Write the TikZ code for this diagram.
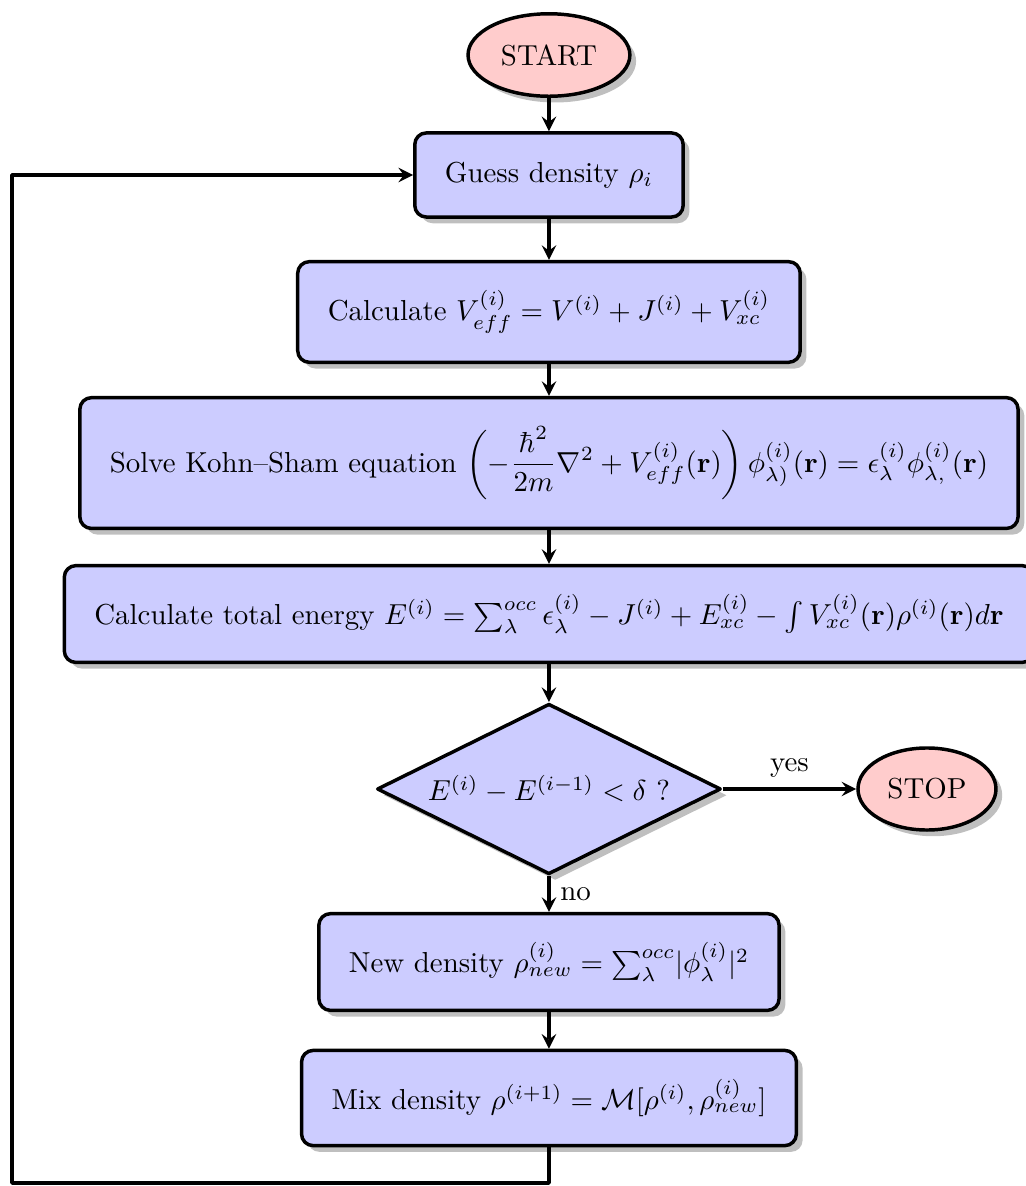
\documentclass[tikz,border=0pt]{standalone}
\usepackage{amsmath}
\usetikzlibrary{shapes.geometric,shadows,arrows}
\tikzset{
  procbox/.style={rectangle, rounded corners=4pt, draw, very thick, fill=blue!20, inner xsep=10.4pt, inner ysep=10pt, drop shadow},
  termin/.style={ellipse, draw, very thick, fill=red!20, inner xsep=3.2pt, inner ysep=6.4pt, drop shadow},
  decide/.style={diamond, aspect=2, draw, very thick, fill=blue!20, inner sep=0pt, minimum width=119pt, minimum height=59pt, drop shadow}
}
\begin{document}
\begin{tikzpicture}[line join=round, >=stealth, very thick]
\useasboundingbox (-6.676,0.669) rectangle (5.801,-13.754);
\node[termin] (start) at (0,0) {START};
\node[procbox] (guess) at (0,-1.459) {Guess density $\rho_i$};
\node[procbox] (veff) at (0,-3.125) {Calculate $V_{eff}^{(i)}=V^{(i)}+J^{(i)}+V_{xc}^{(i)}$};
\node[procbox] (ks) at (0,-4.962) {Solve Kohn--Sham equation $\displaystyle\left(-\frac{\hbar^2}{2m}\nabla^2+V_{eff}^{(i)}(\mathbf{r})\right)\phi_{\lambda)}^{(i)}(\mathbf{r})=\epsilon_\lambda^{(i)}\phi_{\lambda,}^{(i)}(\mathbf{r})$};
\node[procbox] (etot) at (0,-6.798) {Calculate total energy $E^{(i)}=\sum_\lambda^{occ}\epsilon_\lambda^{(i)}-J^{(i)}+E_{xc}^{(i)}-\int V_{xc}^{(i)}(\mathbf{r})\rho^{(i)}(\mathbf{r})d\mathbf{r}$};
\node[decide] (conv) at (0,-8.926) {$E^{(i)}-E^{(i-1)}<\delta$ ?};
\node[termin] (stop) at (4.597,-8.926) {STOP};
\node[procbox] (newrho) at (0,-11.030) {New density $\rho_{new}^{(i)}={\sum_\lambda^{occ}}|\phi_\lambda^{(i)}|^2$};
\node[procbox] (mix) at (0,-12.684) {Mix density $\rho^{(i+1)}=\mathcal{M}[\rho^{(i)},\rho_{new}^{(i)}]$};
\coordinate (loopR) at (0,-13.718);
\coordinate (loopL) at (-6.530,-13.718);
% main flow
\foreach \a/\b in {start/guess, guess/veff, veff/ks, ks/etot, etot/conv, newrho/mix}
\draw[->] (\a) -- (\b);
\draw[->] (conv) -- node[above]{yes} (stop);
\draw[->] (conv) -- node[right]{no} (newrho);
% loop back
\draw[->] (mix) -- (loopR) -- (loopL) |- (guess.west);
\end{tikzpicture}
\end{document}
